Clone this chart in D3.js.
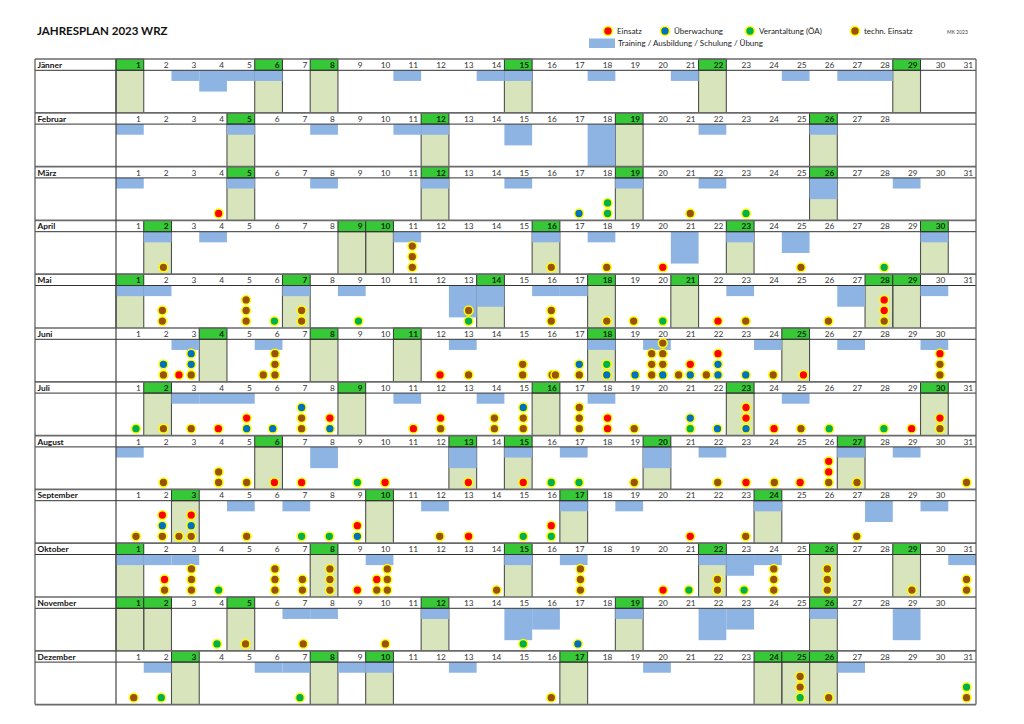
<!DOCTYPE html>
<html><head><meta charset="utf-8">
<script src="https://cdn.jsdelivr.net/npm/d3@7"></script>
<style>body{margin:0;background:#fff}svg{display:block}text{font-family:Lato,"Open Sans",sans-serif}</style>
</head><body><svg id="c" width="1024" height="724"></svg>
<script>
// ---------------- DATA ----------------
const title = "JAHRESPLAN 2023 WRZ";
const author = "MK 2023";
const months = ["Jänner","Februar","März","April","Mai","Juni","Juli","August","September","Oktober","November","Dezember"];
const daysInMonth = [31,28,31,30,31,30,31,31,30,31,30,31];
// Sundays and public holidays (green columns)
const holidays = [
  [1,6,8,15,22,29],[5,12,19,26],[5,12,19,26],[2,9,10,16,23,30],
  [1,7,14,18,21,28,29],[4,8,11,18,25],[2,9,16,23,30],[6,13,15,20,27],
  [3,10,17,24],[1,8,15,22,26,29],[1,2,5,12,19,26],[3,8,10,17,24,25,26]
];
// Training / Ausbildung / Schulung / Übung : [day, number of stacked trainings]
const training = [
  [[3,1],[4,2],[5,1],[6,1],[11,1],[14,1],[15,1],[18,1],[21,1],[25,1],[27,1],[28,1]],
  [[1,1],[5,1],[8,1],[11,1],[12,1],[15,2],[18,4],[22,1],[26,1]],
  [[1,1],[5,1],[8,1],[12,1],[15,1],[19,1],[22,1],[26,2],[29,1]],
  [[2,1],[4,1],[11,1],[16,1],[18,1],[21,3],[23,1],[25,2],[30,1]],
  [[1,1],[2,1],[7,1],[9,1],[13,3],[14,2],[16,1],[17,1],[23,1],[27,2],[30,1]],
  [[3,1],[6,1],[13,1],[18,1],[20,1],[24,1],[27,1],[30,1]],
  [[3,1],[4,1],[5,1],[11,1],[14,1],[18,1],[25,1]],
  [[1,1],[8,2],[13,2],[15,1],[17,1],[20,2],[22,1],[27,1],[29,1]],
  [[5,1],[7,1],[12,1],[17,1],[19,1],[24,1],[28,2],[30,1]],
  [[1,1],[2,1],[3,1],[10,1],[15,1],[17,1],[22,1],[23,2],[24,1],[31,1]],
  [[7,1],[8,1],[12,1],[15,3],[16,2],[19,1],[22,3],[23,2],[26,1],[29,3]],
  [[2,1],[6,1],[7,1],[9,1],[10,1],[13,1],[20,1],[27,1]]
];
// Event types
const eventTypes = ["E","U","V","T"];
const eventNames = ["Einsatz","Überwachung","Verantaltung (ÖA)","techn. Einsatz"];
const trainingName = "Training / Ausbildung / Schulung / Übung";
// Events: [month (1-12), position on day axis, stack level, type]
const events = [
  [3,4.70,1,"E"],[3,17.69,1,"U"],[3,18.72,1,"V"],[3,18.72,2,"V"],[3,21.70,1,"T"],[3,23.71,1,"V"],
  [4,2.71,1,"T"],[4,11.68,1,"T"],[4,11.68,2,"T"],[4,11.68,3,"T"],[4,16.69,1,"T"],[4,18.69,1,"T"],
  [4,20.71,1,"E"],[4,25.69,1,"T"],[4,28.69,1,"V"],
  [5,2.67,1,"T"],[5,2.67,2,"T"],[5,5.69,1,"T"],[5,5.69,2,"T"],[5,5.69,3,"T"],[5,6.71,1,"V"],
  [5,7.69,1,"T"],[5,7.69,2,"T"],[5,9.74,1,"V"],[5,13.71,1,"V"],[5,13.71,2,"T"],
  [5,16.69,1,"T"],[5,16.69,2,"T"],[5,18.69,1,"T"],[5,19.66,1,"T"],[5,20.71,1,"V"],
  [5,22.70,1,"E"],[5,23.70,1,"T"],[5,26.68,1,"T"],[5,28.69,1,"T"],[5,28.69,2,"E"],[5,28.69,3,"E"],
  [6,2.71,1,"T"],[6,2.71,2,"U"],[6,3.27,1,"E"],[6,3.71,1,"T"],[6,3.71,2,"U"],[6,3.71,3,"U"],
  [6,6.31,1,"T"],[6,6.73,1,"T"],[6,6.73,2,"T"],[6,6.73,3,"T"],[6,12.68,1,"E"],[6,13.71,1,"T"],
  [6,15.66,1,"T"],[6,15.66,2,"T"],[6,16.72,1,"T"],[6,16.84,1,"T"],[6,17.70,1,"T"],[6,17.70,2,"U"],
  [6,18.69,1,"U"],[6,18.69,2,"V"],[6,19.71,1,"U"],
  [6,20.31,1,"T"],[6,20.31,2,"T"],[6,20.31,3,"T"],
  [6,20.71,1,"U"],[6,20.71,2,"T"],[6,20.71,3,"T"],[6,20.71,4,"T"],
  [6,21.28,1,"T"],[6,21.70,1,"U"],[6,21.70,2,"E"],
  [6,22.28,1,"T"],[6,22.70,1,"U"],[6,22.70,2,"U"],[6,22.70,3,"E"],
  [6,23.70,1,"U"],[6,24.69,1,"T"],[6,25.78,1,"E"],[6,30.70,1,"T"],[6,30.70,2,"T"],[6,30.70,3,"E"],
  [7,1.72,1,"V"],[7,2.71,1,"T"],[7,3.71,1,"T"],[7,4.69,1,"E"],[7,5.71,1,"U"],[7,5.71,2,"E"],
  [7,6.65,1,"U"],[7,7.69,1,"T"],[7,7.69,2,"T"],[7,7.69,3,"U"],[7,8.71,1,"U"],[7,8.71,2,"E"],
  [7,11.72,1,"E"],[7,12.70,1,"T"],[7,12.70,2,"E"],[7,14.64,1,"T"],[7,14.64,2,"T"],
  [7,15.68,1,"T"],[7,15.68,2,"T"],[7,15.68,3,"U"],[7,17.70,1,"T"],[7,17.70,2,"T"],[7,17.70,3,"T"],
  [7,18.72,1,"E"],[7,18.72,2,"E"],[7,19.68,1,"T"],[7,21.70,1,"V"],[7,21.70,2,"U"],[7,22.68,1,"U"],
  [7,23.71,1,"U"],[7,23.71,2,"E"],[7,23.71,3,"E"],[7,24.72,1,"E"],[7,25.69,1,"T"],[7,26.71,1,"V"],
  [7,28.68,1,"V"],[7,29.68,1,"E"],[7,30.70,1,"T"],[7,30.70,2,"E"],
  [8,2.71,1,"T"],[8,4.70,1,"T"],[8,4.70,2,"T"],[8,5.71,1,"T"],[8,6.71,1,"E"],[8,7.69,1,"E"],
  [8,9.70,1,"V"],[8,10.70,1,"E"],[8,13.70,1,"E"],[8,15.68,1,"E"],[8,16.69,1,"V"],[8,17.69,1,"V"],
  [8,19.68,1,"T"],[8,22.69,1,"T"],[8,23.71,1,"E"],[8,24.73,1,"T"],[8,25.66,1,"E"],
  [8,26.69,1,"T"],[8,26.69,2,"E"],[8,26.69,3,"E"],[8,27.71,1,"T"],[8,31.66,1,"T"],
  [9,1.72,1,"T"],[9,2.67,1,"T"],[9,2.67,2,"U"],[9,2.67,3,"E"],[9,3.27,1,"T"],
  [9,3.71,1,"T"],[9,3.71,2,"U"],[9,3.71,3,"E"],[9,5.71,1,"T"],[9,7.69,1,"V"],[9,8.69,1,"V"],
  [9,9.70,1,"U"],[9,9.70,2,"E"],[9,12.67,1,"T"],[9,13.71,1,"E"],[9,15.68,1,"V"],
  [9,16.69,1,"V"],[9,16.69,2,"E"],[9,21.70,1,"E"],[9,23.70,1,"T"],[9,27.70,1,"T"],
  [10,2.75,1,"T"],[10,2.75,2,"E"],[10,3.72,1,"T"],[10,3.72,2,"T"],[10,3.72,3,"T"],[10,4.70,1,"V"],
  [10,6.73,1,"T"],[10,6.73,2,"T"],[10,6.73,3,"T"],[10,7.72,1,"T"],[10,7.72,2,"T"],
  [10,8.71,1,"T"],[10,8.71,2,"T"],[10,8.71,3,"T"],[10,9.70,1,"E"],[10,10.40,1,"T"],[10,10.40,2,"E"],
  [10,10.78,1,"T"],[10,10.78,2,"T"],[10,10.78,3,"T"],[10,14.72,1,"T"],
  [10,17.74,1,"T"],[10,17.74,2,"T"],[10,17.74,3,"T"],[10,20.72,1,"E"],[10,21.65,1,"V"],
  [10,22.68,1,"T"],[10,22.68,2,"T"],[10,23.64,1,"V"],[10,24.71,1,"T"],[10,24.71,2,"T"],[10,24.71,3,"T"],
  [10,26.64,1,"T"],[10,26.64,2,"T"],[10,26.64,3,"T"],[10,29.69,1,"T"],[10,31.66,1,"T"],[10,31.66,2,"T"],
  [11,4.64,1,"V"],[11,5.67,1,"T"],[11,7.75,1,"T"],[11,10.71,1,"T"],[11,15.68,1,"V"],[11,17.65,1,"U"],
  [12,1.64,1,"T"],[12,2.63,1,"V"],[12,7.63,1,"V"],[12,16.69,1,"T"],
  [12,25.66,1,"V"],[12,25.66,2,"T"],[12,25.66,3,"T"],[12,26.69,1,"T"],[12,31.66,1,"T"],[12,31.66,2,"V"]
];

// ---------------- STYLE ----------------
const colors = {E:"#ff0000",U:"#0070c0",V:"#00b050",T:"#9a5208"};
const greenHead = "#37c837", greenBody = "#d8e4bc", blueBar = "#8db4e2";

const svg = d3.select("#c");
const tLeft = 35, labelEnd = 116, tRight = 976, tTop = 59, tBottom = 704.6;
const x = d3.scaleLinear().domain([1,32]).range([labelEnd,tRight]);
const y = d3.scaleBand().domain(months).range([tTop,tBottom]);
const headH = 11.3;
const bodyH = y.bandwidth() - headH;
const trainH = d3.scaleLinear().domain([0,4]).range([0,bodyH]);
const slotY = d3.scaleLinear().domain([1,2]).range([-6.9,-17.5]);

svg.append("rect").attr("width",1024).attr("height",724).attr("fill","#fff");

// Title
svg.append("text").attr("x",37).attr("y",34.5).attr("font-size",11.5).attr("font-weight",700)
  .attr("fill","#111").text(title);

// Legend
const legDots = [[608,"E"],[665,"U"],[750,"V"],[855,"T"]];
const lg = svg.append("g");
legDots.forEach(([lx,t])=>{
  lg.append("circle").attr("cx",lx).attr("cy",31).attr("r",4.5).attr("fill",colors[t]).attr("stroke","#ffff00").attr("stroke-width",1.6);
  lg.append("text").attr("x",lx+9).attr("y",34).attr("font-size",8).attr("fill","#222").text(eventNames[eventTypes.indexOf(t)]);
});
lg.append("rect").attr("x",589).attr("y",38.5).attr("width",26).attr("height",9.5).attr("fill",blueBar);
lg.append("text").attr("x",618).attr("y",46).attr("font-size",8).attr("fill","#222").text(trainingName);
lg.append("text").attr("x",947).attr("y",33.5).attr("font-size",5).attr("fill","#444").text(author);

// Months
months.forEach((m,i)=>{
  const g = svg.append("g");
  const y0 = y(m), yb = y0 + headH, ye = y0 + y.bandwidth();
  const hol = holidays[i];
  g.selectAll(".gb").data(hol).enter().append("rect")
    .attr("x",d=>x(d)).attr("y",yb).attr("width",d=>x(d+1)-x(d)).attr("height",bodyH).attr("fill",greenBody);
  hol.forEach(d=>{
    [d,d+1].forEach(v=>g.append("line").attr("x1",x(v)).attr("x2",x(v)).attr("y1",yb).attr("y2",ye)
      .attr("stroke","#505050").attr("stroke-width",1.1));
  });
  g.selectAll(".tb").data(training[i]).enter().append("rect")
    .attr("x",d=>x(d[0])).attr("y",yb).attr("width",d=>x(d[0]+1)-x(d[0])).attr("height",d=>trainH(d[1])).attr("fill",blueBar);
  g.append("rect").attr("x",tLeft).attr("y",y0).attr("width",tRight-tLeft).attr("height",headH).attr("fill","#fff");
  g.selectAll(".gh").data(hol).enter().append("rect")
    .attr("x",d=>x(d)).attr("y",y0).attr("width",d=>x(d+1)-x(d)).attr("height",headH)
    .attr("fill",greenHead).attr("stroke","#333").attr("stroke-width",1);
  const days = d3.range(1,daysInMonth[i]+1);
  g.selectAll(".dn").data(days).enter().append("text")
    .attr("x",d=>x(d+1)-3).attr("y",y0+headH-2.3).attr("text-anchor","end").attr("font-size",8.3)
    .attr("font-weight",d=>hol.includes(d)?700:400)
    .attr("fill",d=>hol.includes(d)?"#0a2a0a":"#333").text(d=>d);
  g.append("text").attr("x",37.5).attr("y",y0+headH-2.4).attr("font-size",8.3).attr("font-weight",700).attr("fill","#111").text(m);
  g.append("line").attr("x1",tLeft).attr("x2",tRight).attr("y1",y0).attr("y2",y0).attr("stroke","#6a6a6a").attr("stroke-width",1.7);
  g.append("line").attr("x1",tLeft).attr("x2",tRight).attr("y1",yb).attr("y2",yb).attr("stroke","#333").attr("stroke-width",1);
});
[[tLeft,"#555"],[labelEnd,"#444"],[tRight,"#555"]].forEach(([vx,c])=>
  svg.append("line").attr("x1",vx).attr("x2",vx).attr("y1",tTop).attr("y2",tBottom).attr("stroke",c).attr("stroke-width",1.2));
svg.append("line").attr("x1",tLeft).attr("x2",tRight).attr("y1",tBottom).attr("y2",tBottom).attr("stroke","#6a6a6a").attr("stroke-width",1.7);

svg.append("g").selectAll("circle").data(events).enter().append("circle")
  .attr("cx",d=>x(d[1]))
  .attr("cy",d=>y(months[d[0]-1]) + y.bandwidth() + slotY(d[2]))
  .attr("r",4.4)
  .attr("fill",d=>colors[d[3]])
  .attr("stroke","#ffff00").attr("stroke-width",1.5);
</script></body></html>
